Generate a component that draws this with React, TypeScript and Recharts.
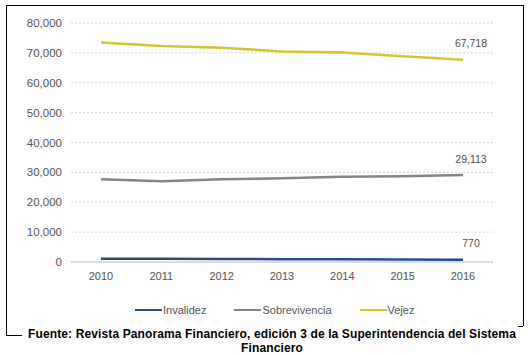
import { CartesianGrid, LabelList, Line, LineChart, XAxis, YAxis } from "recharts";

const years = ["2010", "2011", "2012", "2013", "2014", "2015", "2016"];
const invalidez = [1100, 1050, 1000, 950, 900, 850, 770];
const sobrevivencia = [27700, 27000, 27700, 28000, 28500, 28700, 29113];
const vejez = [73500, 72300, 71700, 70500, 70100, 68900, 67718];
const yTicks = [0, 10000, 20000, 30000, 40000, 50000, 60000, 70000, 80000];

const series = [
  { key: "invalidez", name: "Invalidez", color: "#2c4b8c" },
  { key: "sobrevivencia", name: "Sobrevivencia", color: "#858585" },
  { key: "vejez", name: "Vejez", color: "#d2c62c" },
];

const data = years.map((y, i) => ({
  year: y,
  invalidez: invalidez[i],
  sobrevivencia: sobrevivencia[i],
  vejez: vejez[i],
}));

const fmt = (v: number) => v.toLocaleString("en-US");
const last = years.length - 1;

// only the last point of each series gets a value label
function EndLabel(props: any) {
  const { x, y, value, index } = props;
  if (index !== last) return null;
  return (
    <text x={x + 8} y={y - 12.5} textAnchor="middle" fontSize={10.5} fill="#4d4d4d">
      {fmt(value)}
    </text>
  );
}

export default function App() {
  return (
    <div
      style={{
        position: "absolute",
        left: 0,
        top: 0,
        width: 530,
        height: 356,
        background: "#fff",
        fontFamily: "'Liberation Sans', Arial, sans-serif",
      }}
    >
      {/* bracket frame */}
      <div style={{ position: "absolute", left: 6, top: 5, width: 517, height: 0, borderTop: "1px solid #000" }} />
      <div style={{ position: "absolute", left: 6, top: 5, width: 0, height: 330, borderLeft: "1px solid #000" }} />
      <div style={{ position: "absolute", left: 6, top: 335, width: 16, height: 0, borderTop: "1px solid #000" }} />
      <div style={{ position: "absolute", left: 523, top: 5, width: 0, height: 321, borderLeft: "1px solid #000" }} />
      <div style={{ position: "absolute", left: 518, top: 326, width: 5, height: 0, borderTop: "1px solid #000" }} />

      <div style={{ position: "absolute", left: 0, top: 0 }}>
        <LineChart width={530} height={300} data={data} margin={{ top: 23, right: 37, bottom: 8, left: 0 }}>
          <CartesianGrid vertical={false} stroke="#d6d6d6" strokeDasharray="2 2" />
          <XAxis
            dataKey="year"
            padding={{ left: 30, right: 30 }}
            tickLine={false}
            axisLine={{ stroke: "#c4c4c4" }}
            tick={{ fontSize: 11, fill: "#555" }}
            tickMargin={4}
            height={30}
          />
          <YAxis
            width={71}
            domain={[0, 80000]}
            ticks={yTicks}
            tickFormatter={fmt}
            axisLine={false}
            tickLine={false}
            tick={{ fontSize: 11.5, fill: "#555" }}
            tickMargin={3}
          />
          {series.map((s) => (
            <Line
              key={s.key}
              dataKey={s.key}
              name={s.name}
              type="linear"
              stroke={s.color}
              strokeWidth={2.5}
              dot={false}
              isAnimationActive={false}
            >
              <LabelList dataKey={s.key} content={EndLabel} />
            </Line>
          ))}
        </LineChart>
      </div>

      {/* legend */}
      <div
        style={{
          position: "absolute",
          left: 135,
          top: 304,
          display: "flex",
          alignItems: "center",
          fontSize: 11,
          color: "#555",
          whiteSpace: "nowrap",
        }}
      >
        {series.map((s, i) => (
          <div key={s.key} style={{ display: "flex", alignItems: "center", marginLeft: i === 0 ? 0 : 28 }}>
            <span style={{ display: "inline-block", width: 27, height: 2.5, background: s.color, marginRight: 1 }} />
            <span>{s.name}</span>
          </div>
        ))}
      </div>

      {/* source caption */}
      <div
        style={{
          position: "absolute",
          left: 22,
          top: 327,
          width: 500,
          textAlign: "center",
          fontSize: 12,
          fontWeight: "bold",
          lineHeight: "14px",
          letterSpacing: 0.12,
          color: "#000",
        }}
      >
        Fuente: Revista Panorama Financiero, edición 3 de la Superintendencia del Sistema Financiero
      </div>
    </div>
  );
}
